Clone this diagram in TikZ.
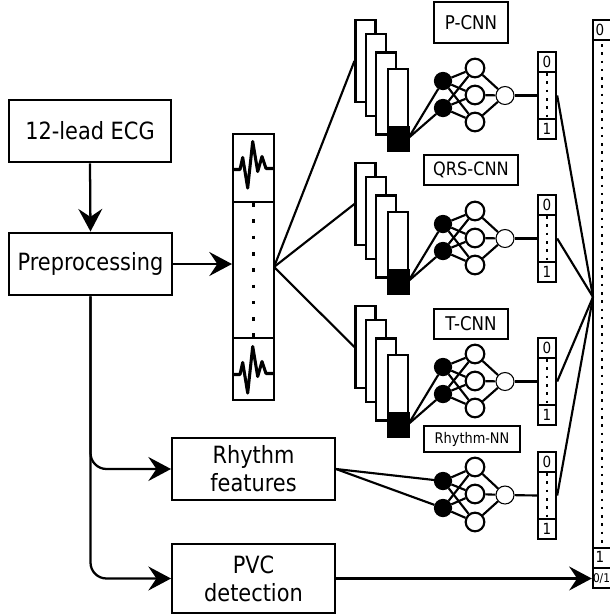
\documentclass[tikz,border=0pt]{standalone}
\usepackage{fontspec}
\setmainfont{DejaVu Sans}[FakeStretch=0.88]
\usetikzlibrary{arrows.meta}
\tikzset{
  x=0.75pt,y=-0.75pt,
  line width=1.7pt,
  rbox/.style={draw=black,fill=white,line width=1.8pt,minimum width=#1,inner sep=0pt,align=center},
  rbox/.default=0pt,
  lblbox/.style={draw=black,fill=white,line width=1.7pt,inner sep=0pt,align=center},
  layerbox/.style={draw=black,fill=white,line width=1.6pt,inner sep=0pt,minimum width=15pt},
  solidbox/.style={draw=black,fill=black,inner sep=0pt,minimum width=15.5pt,minimum height=18.5pt},
  inn/.style={circle,draw=black,fill=black,line width=1.2pt,minimum size=12.5pt,inner sep=0pt},
  hid/.style={circle,draw=black,fill=white,line width=1.6pt,minimum size=14pt,inner sep=0pt},
  outn/.style={circle,draw=black,fill=white,line width=0.8pt,minimum size=13.5pt,inner sep=0pt},
  cell/.style={draw=black,fill=white,line width=1.8pt,inner sep=0pt,minimum width=13.5pt,font=\fontsize{11.5}{13}\selectfont},
  conn/.style={draw=black,line width=1.6pt},
  arr/.style={draw=black,line width=1.7pt,-{Stealth[length=17pt,width=18pt,inset=6pt]}},
  dots/.style={draw=black,line width=2.7pt,dash pattern=on 2.7pt off 9.5pt},
  smalldots/.style={draw=black,line width=1.9pt,dash pattern=on 1.9pt off 4.3pt},
  wave/.style={draw=black,line width=2.3pt,line join=round},
  freetext/.style={inner sep=0pt},
}
\begin{document}
\begin{tikzpicture}
\useasboundingbox (0,0) rectangle (610,615);
\clip (0,0) rectangle (610,615);
\def\bigf{\fontsize{17.8}{21}\selectfont}

% left boxes
\node[lblbox,minimum width=121pt,minimum height=47pt,font=\bigf] (ecg) at (90,131) {12-lead ECG};
\node[lblbox,minimum width=122pt,minimum height=47pt,font=\bigf] (prep) at (90.5,264) {Preprocessing};
\node[lblbox,minimum width=122pt,minimum height=46.5pt,font=\bigf] (rhythm) at (253.5,469) {Rhythm\\features};
\node[lblbox,minimum width=122pt,minimum height=52pt,font=\bigf] (pvc) at (253.5,578.5) {PVC\\detection};

% signal column
\node[rbox=30.5pt,minimum height=51pt] (sigtop) at (253.5,168) {};
\node[rbox=30.5pt,minimum height=102pt] (sigmid) at (253.5,270) {};
\node[rbox=30.5pt,minimum height=46.5pt] (sigbot) at (253.5,369) {};
\coordinate (fan) at (274,267);
\draw[dots] (sigtop.south) -- (sigbot.north);
\foreach \dy in {0,205}{
  \draw[wave,yshift=-0.75pt*\dy] (233.5,169.5) -- (240,169.5) -- (242.7,157.5) -- (247.7,188) -- (252.7,141.5) -- (257.7,171.5) -- (262,156.5) -- (266,168.5) -- (274,168.5);
}

% big column
\node[cell,minimum width=24pt,minimum height=15pt] (b0) at (609,30) {};
\node[cell,minimum width=24pt,minimum height=381pt] (bmid) at (609,294) {};
\node[cell,minimum width=24pt,minimum height=15pt] (b1) at (609,558) {};
\node[cell,minimum width=24pt,minimum height=15pt] (bz) at (609,578) {};
\coordinate (bd1) at (602,44);
\coordinate (bd2) at (602,546);
\draw[smalldots] (bd1) -- (bd2);
\node[freetext,font=\fontsize{11.5}{13}\selectfont] (t0) at (600,30) {0};
\node[freetext,font=\fontsize{11.5}{13}\selectfont] (t1) at (600,557) {1};
\node[freetext,font=\fontsize{9}{10}\selectfont] (tz) at (601.5,579) {0/1};
\coordinate (merge) at (593,297);

% repeated branches
\foreach \n/\dd/\lab/\lx/\ly/\lw/\lh/\lf in {
  P/0/P-CNN/471/22.5/55.5/30.5/14.2,
  Q/143/QRS-CNN/471/170/70.5/23/13.8,
  T/286/T-CNN/471/324/55.5/22/14.2}{
  \begin{scope}[yshift=-0.75pt*\dd]
    \node[layerbox,minimum height=61.5pt] (\n a) at (365.5,61) {};
    \node[layerbox,minimum height=61.5pt] (\n b) at (376,75) {};
    \node[layerbox,minimum height=61.5pt] (\n c) at (386,93.5) {};
    \node[layerbox,minimum height=61.5pt] (\n d) at (398,110) {};
    \node[solidbox] (\n e) at (398.5,138.5) {};
    \coordinate (\n src) at (408.5,138);
    \node[inn] (\n i1) at (443,81) {};
    \node[inn] (\n i2) at (443,108) {};
    \node[hid] (\n h1) at (475,68) {};
    \node[hid] (\n h2) at (475,95) {};
    \node[hid] (\n h3) at (475,122) {};
    \node[outn] (\n o) at (505,95.5) {};
    \node[cell,minimum height=15pt] (\n c0) at (547,62) {0};
    \node[cell,minimum height=35.5pt] (\n cm) at (547,95.5) {};
    \node[cell,minimum height=15pt] (\n c1) at (547,129) {1};
    \draw[smalldots] (\n c0.south) -- (\n c1.north);
  \end{scope}
  \node[lblbox,minimum width=\lw pt,minimum height=\lh pt,font=\fontsize{\lf}{15}\selectfont] (\n l) at (\lx,\ly) {\lab};
  \foreach \i in {1,2}{
    \draw[conn] (\n src) -- (\n i\i);
    \foreach \h in {1,2,3}{\draw[conn] (\n i\i) -- (\n h\h);}
  }
  \foreach \h in {1,2,3}{\draw[conn] (\n h\h) -- (\n o);}
  \draw[conn] (\n o) -- (\n cm.west);
  \draw[conn] (\n cm.east) -- (merge);
}
\draw[conn] (fan) -- (Pa.west);
\draw[conn] (fan) -- (Qa.west);
\draw[conn] (fan) -- (Ta.west);

% rhythm branch
\node[lblbox,minimum width=72pt,minimum height=19pt,font=\fontsize{11}{13}\selectfont] (Rl) at (472,439) {Rhythm-NN};
\node[inn] (Ri1) at (443,481) {};
\node[inn] (Ri2) at (443,508) {};
\node[hid] (Rh1) at (475,467) {};
\node[hid] (Rh2) at (475,494) {};
\node[hid] (Rh3) at (475,522) {};
\node[outn] (Ro) at (505,495) {};
\node[cell,minimum height=15pt] (Rc0) at (547,462) {0};
\node[cell,minimum height=35.5pt] (Rcm) at (547,495.5) {};
\node[cell,minimum height=15pt] (Rc1) at (547,529) {1};
\draw[smalldots] (Rc0.south) -- (Rc1.north);
\foreach \i in {1,2}{
  \draw[conn] (rhythm.east) -- (Ri\i);
  \foreach \h in {1,2,3}{\draw[conn] (Ri\i) -- (Rh\h);}
}
\foreach \h in {1,2,3}{\draw[conn] (Rh\h) -- (Ro);}
\draw[conn] (Ro) -- (Rcm.west);
\draw[conn] (Rcm.east) -- (merge);

% arrows
\draw[arr] (ecg.south) -- (prep.north);
\draw[arr] (prep.east) -- (sigmid.west |- prep.east);
\draw[arr,rounded corners=12pt] (prep.south) |- (rhythm.west);
\draw[arr,rounded corners=12pt] (prep.south) |- (pvc.west);
\draw[arr] (pvc.east) -- (bz.west |- pvc.east);
\end{tikzpicture}
\end{document}
